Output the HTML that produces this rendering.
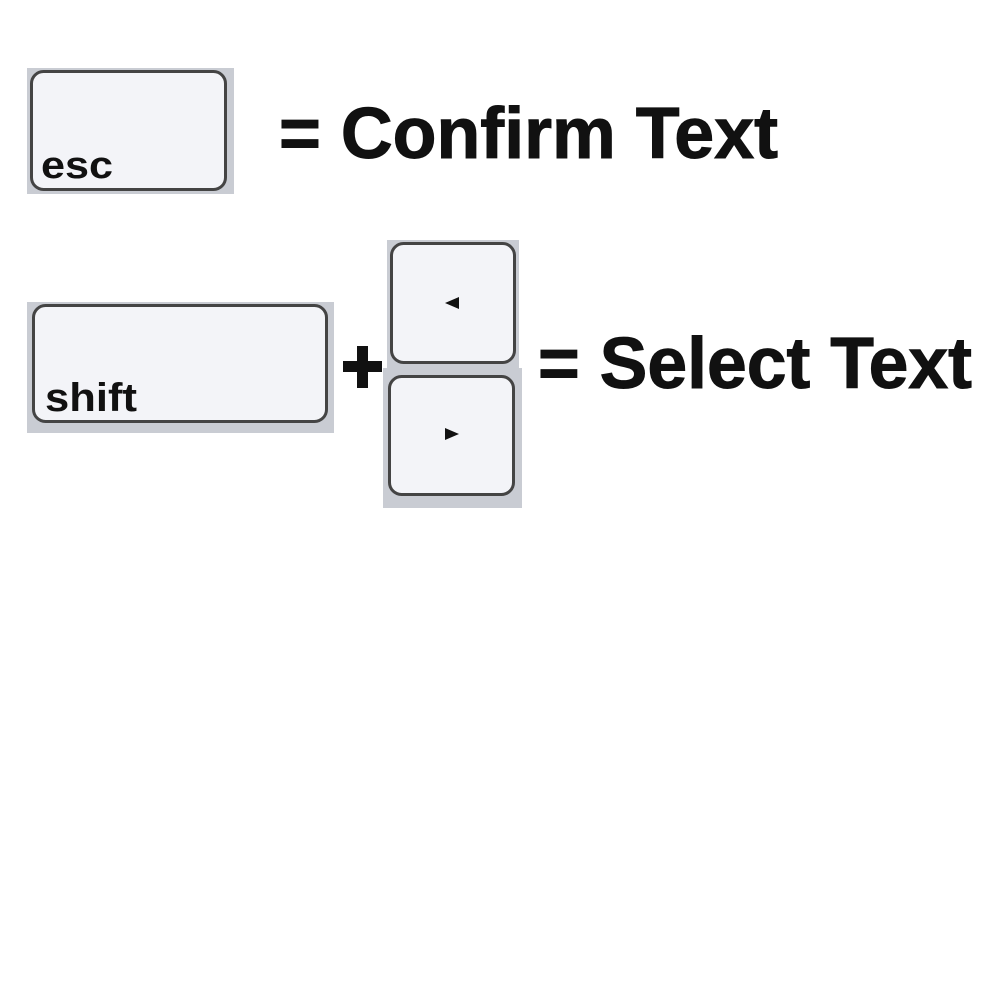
<!DOCTYPE html>
<html><head><style>html,body{margin:0;padding:0;background:#fff}</style></head>
<body>
<svg width="1000" height="1000" xmlns="http://www.w3.org/2000/svg" font-family="Liberation Sans, Arial, sans-serif" font-weight="bold">
<rect width="1000" height="1000" fill="#fff"/>
<rect x="27" y="68" width="207" height="126" fill="#c9ccd3"/>
<rect x="31.5" y="71.5" width="194" height="118" rx="12" fill="#f3f4f8" stroke="#444" stroke-width="3"/>
<text x="41" y="178" font-size="38" fill="#111" textLength="72" lengthAdjust="spacingAndGlyphs">esc</text>
<rect x="27" y="302" width="307" height="131" fill="#c9ccd3"/>
<rect x="33.5" y="305.5" width="293" height="116" rx="12" fill="#f3f4f8" stroke="#444" stroke-width="3"/>
<text x="45" y="411" font-size="40" fill="#111" textLength="92" lengthAdjust="spacingAndGlyphs">shift</text>
<rect x="343" y="361" width="39" height="11" fill="#111"/>
<rect x="357" y="346" width="11" height="42" fill="#111"/>
<rect x="387" y="240" width="132" height="128" fill="#c9ccd3"/>
<rect x="391.5" y="243.5" width="123" height="119" rx="12" fill="#f3f4f8" stroke="#444" stroke-width="3"/>
<polygon points="445,303 459,297 459,309" fill="#111"/>
<rect x="383" y="368" width="139" height="140" fill="#c9ccd3"/>
<rect x="389.5" y="376.5" width="124" height="118" rx="12" fill="#f3f4f8" stroke="#444" stroke-width="3"/>
<polygon points="445,428 459,434 445,440" fill="#111"/>
<text x="279" y="158" font-size="72" fill="#111" stroke="#111" stroke-width="1" textLength="499" lengthAdjust="spacingAndGlyphs">= Confirm Text</text>
<text x="538" y="388" font-size="72" fill="#111" stroke="#111" stroke-width="1" textLength="434" lengthAdjust="spacingAndGlyphs">= Select Text</text>
</svg>
</body></html>
